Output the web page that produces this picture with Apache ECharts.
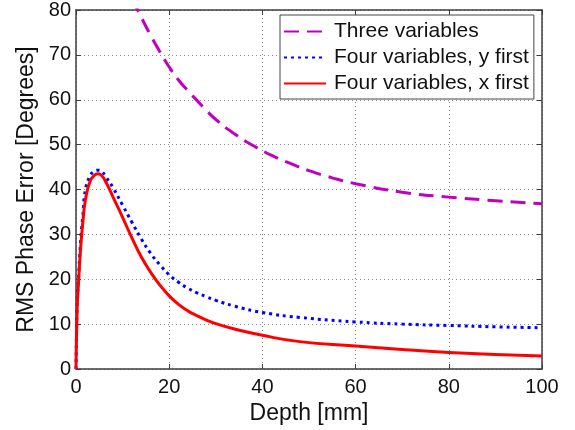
<!DOCTYPE html>
<html>
<head>
<meta charset="utf-8">
<script src="https://cdn.jsdelivr.net/npm/echarts@6/dist/echarts.min.js"></script>
<style>html,body{margin:0;padding:0;background:#fff;}#c{width:575px;height:430px;}</style>
</head>
<body>
<div id="c"></div>
<script>
// Data
var seriesNames = ["Three variables", "Four variables, y first", "Four variables, x first"];
var depthThree = [12, 14, 16, 18, 20, 22, 24, 26, 28, 30, 34, 38, 42, 46, 50, 55, 60, 70, 80, 90, 100];
var threeVars  = [82.6, 78.4, 74.4, 70.7, 67.3, 64.4, 62.0, 59.8, 57.6, 55.6, 52.4, 49.8, 47.6, 45.8, 44.2, 42.6, 41.3, 39.4, 38.3, 37.5, 36.8];
var depthFour  = [0, 0.25, 0.5, 1, 1.5, 2, 3, 4, 4.7, 5.5, 6.5, 8, 10, 12, 14, 16, 18, 20, 22, 24, 26, 28, 30, 34, 40, 48, 60, 70, 80, 90, 100];
var fourYFirst = [0, 14.5, 19.5, 28.5, 34.5, 39.8, 43, 44.1, 44.3, 44.0, 42.7, 40.3, 36.5, 32.7, 29.0, 25.8, 23.2, 21.0, 19.35, 18.0, 16.95, 16.1, 15.3, 14.0, 12.6, 11.5, 10.5, 10.0, 9.7, 9.4, 9.2];
var fourXFirst = [0, 13.5, 18.5, 27, 33, 37.5, 41.8, 43.2, 43.5, 43.1, 41.5, 38.2, 33.8, 29.2, 25.0, 21.6, 18.7, 16.3, 14.4, 12.95, 11.85, 10.9, 10.1, 8.9, 7.5, 6.1, 5.15, 4.35, 3.7, 3.25, 2.9];
var xTicks = [0, 20, 40, 60, 80, 100];
var yTicks = [0, 10, 20, 30, 40, 50, 60, 70, 80];

function pairs(xs, ys) { return xs.map(function (x, i) { return [x, ys[i]]; }); }

var chart = echarts.init(document.getElementById('c'), null, {renderer: 'canvas'});
var FONT = '"Liberation Sans", Arial, Helvetica, sans-serif';
var AX = '#3c3c3c';
var gridLine = {show: true, lineStyle: {color: '#8a8a8a', width: 1, type: [1, 3]}};

chart.setOption({
  backgroundColor: '#ffffff',
  animation: false,
  textStyle: {fontFamily: FONT},
  grid: {left: 76, right: 33, top: 7, bottom: 61, containLabel: false},
  legend: {
    data: seriesNames,
    orient: 'vertical',
    left: 280, top: 15,
    padding: [6, 5, 5, 3],
    itemWidth: 42, itemHeight: 14, itemGap: 5,
    backgroundColor: '#ffffff',
    borderColor: '#444444', borderWidth: 1, borderRadius: 0,
    itemStyle: {opacity: 0},
    textStyle: {fontFamily: FONT, fontSize: 21, color: '#111', lineHeight: 20, padding: [0, 0, 0, 3]}
  },
  xAxis: [{
    type: 'value', min: xTicks[0], max: xTicks[xTicks.length - 1], interval: 20,
    name: 'Depth [mm]', nameLocation: 'middle', nameGap: 30,
    nameTextStyle: {fontFamily: FONT, fontSize: 23, color: '#111'},
    axisLine: {show: true, onZero: false, lineStyle: {color: AX, width: 1.5}},
    axisTick: {show: true, inside: true, length: 5, lineStyle: {color: AX}},
    axisLabel: {fontFamily: FONT, fontSize: 20, color: '#111', margin: 8},
    splitLine: gridLine
  }, {
    type: 'value', position: 'top', min: xTicks[0], max: xTicks[xTicks.length - 1], interval: 20,
    axisLine: {show: true, onZero: false, lineStyle: {color: AX, width: 1.5}},
    axisTick: {show: true, inside: true, length: 5, lineStyle: {color: AX}},
    axisLabel: {show: false}, splitLine: {show: false}
  }],
  yAxis: [{
    type: 'value', min: yTicks[0], max: yTicks[yTicks.length - 1], interval: 10,
    name: 'RMS Phase Error [Degrees]', nameLocation: 'middle', nameGap: 37,
    nameTextStyle: {fontFamily: FONT, fontSize: 23, color: '#111'},
    axisLine: {show: true, onZero: false, lineStyle: {color: AX, width: 1.5}},
    axisTick: {show: true, inside: true, length: 5, lineStyle: {color: AX}},
    axisLabel: {fontFamily: FONT, fontSize: 20, color: '#111', margin: 5},
    splitLine: gridLine
  }, {
    type: 'value', position: 'right', min: yTicks[0], max: yTicks[yTicks.length - 1], interval: 10,
    axisLine: {show: true, onZero: false, lineStyle: {color: AX, width: 1.5}},
    axisTick: {show: true, inside: true, length: 5, lineStyle: {color: AX}},
    axisLabel: {show: false}, splitLine: {show: false}
  }],
  series: [{
    name: seriesNames[0], type: 'line', xAxisIndex: 0, yAxisIndex: 0,
    data: pairs(depthThree, threeVars), symbol: 'none', smooth: 0.5, clip: true,
    lineStyle: {color: '#bf00bf', width: 3, type: [15, 8]}, itemStyle: {color: '#bf00bf'}, z: 3
  }, {
    name: seriesNames[1], type: 'line', xAxisIndex: 0, yAxisIndex: 0,
    data: pairs(depthFour, fourYFirst), symbol: 'none', smooth: 0.5, clip: true,
    lineStyle: {color: '#0000ff', width: 3, type: [3, 4]}, itemStyle: {color: '#0000ff'}, z: 3
  }, {
    name: seriesNames[2], type: 'line', xAxisIndex: 0, yAxisIndex: 0,
    data: pairs(depthFour, fourXFirst), symbol: 'none', smooth: 0.5, clip: true,
    lineStyle: {color: '#ff0000', width: 3, type: 'solid'}, itemStyle: {color: '#ff0000'}, z: 4
  }]
});
</script>
</body>
</html>
